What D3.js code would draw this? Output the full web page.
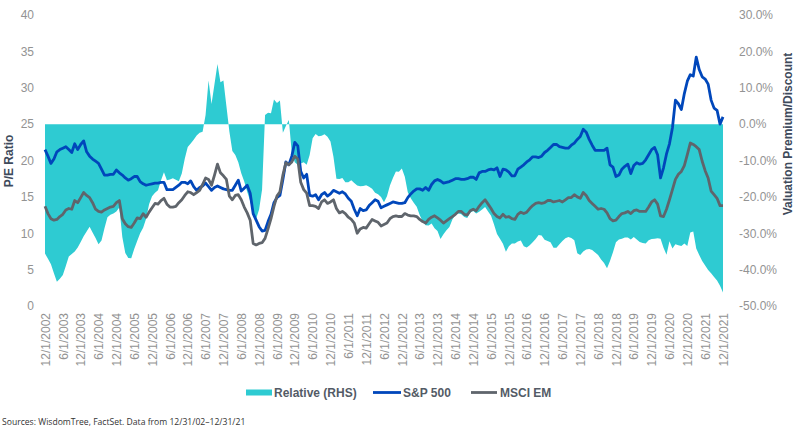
<!DOCTYPE html>
<html>
<head>
<meta charset="utf-8">
<script src="https://cdn.jsdelivr.net/npm/d3@7"></script>
<style>
  html, body { margin: 0; padding: 0; background: #ffffff; }
  svg { display: block; }
  text { font-family: "Liberation Sans", Arial, sans-serif; }
</style>
</head>
<body>
<svg id="chart" width="802" height="431"></svg>
<script>
// ---------- DATA (monthly, 12/2002 – 12/2021) ----------
const startMonth = "2002-12";
const sp500 = [
21.5,20.6,19.6,20.2,21.2,21.5,21.7,21.9,21.5,21.1,22.3,21.5,22.2,22.7,21.2,20.6,20.2,19.9,19.6,18.8,
18.0,18.0,18.1,18.1,18.7,18.3,18.0,17.6,17.3,17.5,17.8,17.8,17.1,16.8,16.6,16.7,16.8,16.9,16.9,17.0,
17.0,16.0,16.0,16.0,16.3,16.6,17.0,17.0,16.8,17.2,16.4,15.9,16.3,16.5,16.9,16.4,15.9,16.3,16.5,16.3,
16.1,16.0,15.9,15.9,16.6,17.3,15.8,16.2,16.6,15.5,12.7,11.8,10.9,10.3,10.4,11.6,12.6,14.2,14.9,15.2,
17.4,19.8,19.4,20.6,22.5,22.0,18.5,17.6,18.1,15.2,15.1,15.3,14.6,15.3,15.6,15.1,15.4,15.9,15.7,15.5,
15.7,15.4,14.8,14.4,13.3,12.4,13.4,13.1,13.2,13.8,14.2,14.6,14.4,13.5,13.7,13.9,14.1,14.3,14.2,14.1,
14.1,14.2,14.9,15.4,15.8,16.1,16.1,15.9,16.3,15.9,16.7,17.2,17.4,17.2,16.9,17.0,17.1,17.3,17.5,17.5,
17.4,17.4,17.5,17.7,17.7,17.4,18.3,18.5,18.5,18.7,18.8,18.7,19.0,17.8,18.8,18.7,18.4,17.9,17.9,18.8,
19.1,19.4,19.8,20.1,20.5,20.5,20.4,20.6,21.1,21.4,21.8,22.2,22.2,21.9,21.8,21.7,21.7,22.1,22.4,22.9,
23.3,24.3,23.9,22.9,22.1,21.4,21.4,21.4,21.4,21.7,19.4,19.1,17.8,18.0,18.8,19.2,19.5,18.2,19.3,19.7,
19.5,19.6,20.1,20.8,21.5,21.8,20.8,17.6,19.0,20.9,22.3,24.5,28.3,27.8,27.0,29.2,30.9,31.8,31.6,34.2,
32.5,31.5,31.2,30.5,28.3,27.2,26.9,25.0,26.0
];
const msciEM = [
13.7,12.7,12.0,11.8,11.9,12.3,12.6,13.2,13.4,13.3,14.5,14.2,14.9,15.6,15.2,14.9,14.2,13.3,13.0,12.9,
13.2,13.4,13.6,13.7,14.2,14.5,12.0,11.3,10.9,10.8,11.4,12.1,12.0,12.7,12.2,12.9,13.5,14.1,14.0,14.5,
14.8,14.0,13.6,13.6,13.7,14.2,14.6,15.2,15.7,15.6,15.3,15.6,15.9,16.7,17.6,17.4,16.6,18.0,19.5,18.3,
17.9,17.4,15.1,14.6,15.2,15.3,14.6,13.6,12.8,11.8,8.6,8.4,8.6,8.7,9.3,10.6,12.0,13.7,15.1,15.7,
18.0,19.7,19.4,19.8,20.6,20.2,17.0,16.0,15.5,13.8,13.8,13.7,13.4,14.3,14.6,14.1,14.3,14.6,13.4,12.8,
13.0,12.7,12.2,11.9,11.4,10.0,10.6,10.8,10.7,11.3,11.9,11.7,11.5,11.0,11.2,11.4,12.0,12.3,12.4,12.3,
12.3,12.7,12.5,12.4,12.4,12.3,11.9,11.6,11.4,11.9,12.2,12.4,12.1,11.8,11.4,11.7,12.0,12.3,12.6,13.0,
13.0,12.6,12.5,13.1,13.3,13.1,13.7,14.2,14.6,14.0,13.4,12.7,12.3,12.1,12.6,12.2,12.3,12.0,11.9,12.6,
12.9,12.7,12.9,13.4,13.8,14.1,14.2,14.1,14.2,14.5,14.5,14.3,14.4,14.5,14.3,14.6,14.9,14.9,15.3,15.0,
14.8,15.6,15.2,14.5,14.1,13.7,13.3,13.4,13.3,12.8,12.0,11.7,11.8,12.3,12.7,12.8,13.0,12.7,13.1,13.2,
13.0,13.0,13.0,13.6,14.3,14.6,14.0,12.4,12.3,13.3,14.6,16.0,17.4,18.1,18.5,19.3,20.8,22.4,22.2,21.9,
21.5,19.9,18.6,17.6,15.8,15.3,14.8,13.8,13.8
];
const relative = [
-35.6,-37.0,-38.5,-41.0,-43.3,-42.5,-41.5,-39.0,-36.4,-35.7,-35.0,-33.9,-32.4,-30.8,-29.5,-28.2,-29.8,-31.3,-33.0,-32.0,
-28.6,-25.6,-24.9,-24.6,-24.0,-22.9,-31.0,-35.4,-36.8,-36.9,-34.3,-32.1,-30.0,-28.5,-26.0,-22.0,-19.8,-18.9,-18.2,-15.5,
-13.2,-15.4,-15.2,-14.9,-15.3,-15.7,-13.6,-9.5,-6.3,-5.3,-4.3,-3.1,-2.4,-2.1,2.5,12.0,5.5,11.0,16.5,11.5,
12.0,5.0,-2.0,-7.4,-8.5,-10.5,-13.5,-15.8,-18.6,-21.1,-24.6,-26.0,-23.5,-18.0,2.5,3.1,3.0,6.8,5.8,6.5,
-2.4,-0.5,1.1,-8.0,-10.5,-11.2,-10.8,-10.5,-11.2,-8.5,-3.9,-2.7,-3.3,-3.2,-2.8,-3.5,-4.8,-9.0,-15.0,-15.1,
-14.8,-16.0,-16.0,-15.4,-16.2,-16.9,-17.1,-17.0,-16.8,-17.2,-17.8,-18.9,-19.3,-20.0,-21.5,-19.8,-16.9,-14.8,-13.0,-13.1,
-12.2,-14.5,-18.7,-20.4,-21.6,-22.7,-25.0,-26.8,-27.8,-27.9,-27.3,-28.6,-29.4,-31.6,-30.3,-29.2,-28.3,-26.2,-24.9,-24.6,
-24.8,-25.5,-25.8,-24.3,-23.9,-24.6,-24.1,-23.5,-22.8,-24.0,-25.2,-27.6,-30.2,-31.5,-32.9,-35.1,-33.6,-32.8,-32.8,-32.3,
-32.0,-33.6,-33.9,-33.3,-32.5,-31.6,-30.5,-30.6,-31.8,-32.1,-32.5,-34.0,-34.0,-33.0,-32.1,-31.4,-31.0,-31.3,-31.9,-35.5,
-36.0,-35.0,-34.5,-34.3,-34.6,-35.3,-36.0,-37.2,-38.2,-39.6,-37.6,-35.2,-32.5,-31.7,-31.5,-31.2,-31.2,-31.7,-31.0,-31.7,
-32.4,-32.7,-32.8,-31.9,-31.6,-31.5,-31.4,-31.5,-34.0,-35.9,-32.2,-34.2,-33.0,-33.3,-33.5,-32.8,-33.5,-29.8,-29.5,-34.2,
-36.0,-37.6,-38.9,-40.1,-41.0,-42.0,-43.0,-44.4,-46.3
];
const leftTicks = [0, 5, 10, 15, 20, 25, 30, 35, 40];
const rightTicks = [-50, -40, -30, -20, -10, 0, 10, 20, 30];
const seriesNames = ["Relative (RHS)", "S&P 500", "MSCI EM"];
const leftTitle = "P/E Ratio";
const rightTitle = "Valuation Premium/Discount";
const sourceText = "Sources: WisdomTree, FactSet. Data from 12/31/02\u201312/31/21";

// ---------- CATEGORIES (months) ----------
const parseM = d3.utcParse("%Y-%m");
const months = d3.utcMonth.range(parseM(startMonth), d3.utcMonth.offset(parseM(startMonth), sp500.length));
const fmt = d => (d.getUTCMonth() + 1) + "/1/" + d.getUTCFullYear();
const categories = months.map(fmt);
const tickLabels = categories.filter((c, i) => i % 6 === 0);

// ---------- STYLE ----------
const colors = { rel: "#2ECBD2", sp: "#0047BB", em: "#5F656C" };
const svg = d3.select("#chart");

const x = d3.scalePoint().domain(categories).range([45, 723]);
const yL = d3.scaleLinear().domain([0, 40]).range([306, 15]);
const yR = d3.scaleLinear().domain([-50, 30]).range([306, 15]);

// Relative area
const area = d3.area()
  .x((d, i) => x(categories[i]))
  .y0(yR(0))
  .y1(d => yR(d));
svg.append("path").datum(relative)
  .attr("d", area)
  .attr("fill", colors.rel);

// Lines
const lineL = d3.line().x((d, i) => x(categories[i])).y(d => yL(d));
svg.append("path").datum(sp500)
  .attr("d", lineL).attr("fill", "none")
  .attr("stroke", colors.sp).attr("stroke-width", 2.8).attr("stroke-linejoin", "round");
svg.append("path").datum(msciEM)
  .attr("d", lineL).attr("fill", "none")
  .attr("stroke", colors.em).attr("stroke-width", 2.8).attr("stroke-linejoin", "round");

// Axes
const axisColor = "#939393";
const gL = svg.append("g").attr("transform", "translate(34,0)")
  .call(d3.axisLeft(yL).tickValues(leftTicks).tickSize(0).tickPadding(0));
const gR = svg.append("g").attr("transform", "translate(739,0)")
  .call(d3.axisRight(yR).tickValues(rightTicks).tickSize(0).tickPadding(0)
    .tickFormat(d => d.toFixed(1) + "%"));
const gX = svg.append("g").attr("transform", "translate(0,313)")
  .call(d3.axisBottom(x).tickValues(tickLabels).tickSize(0).tickPadding(0));
[gL, gR, gX].forEach(g => {
  g.select(".domain").remove();
  g.selectAll("text").attr("fill", axisColor)
    .style("font-family", "'Liberation Sans', Arial, sans-serif")
    .style("font-size", "12px");
});
gX.selectAll("text")
  .attr("transform", "rotate(-90)")
  .attr("text-anchor", "end")
  .attr("x", 0).attr("y", 0).attr("dx", 0).attr("dy", "0.35em");

// Axis titles
const titleColor = "#3E4A5B";
svg.append("text")
  .attr("transform", "translate(9,161) rotate(-90)")
  .attr("text-anchor", "middle").attr("dy", "0.35em")
  .attr("fill", titleColor).attr("font-weight", "bold").attr("font-size", 12)
  .text(leftTitle);
svg.append("text")
  .attr("transform", "translate(788,134) rotate(-90)")
  .attr("text-anchor", "middle").attr("dy", "0.35em")
  .attr("fill", titleColor).attr("font-weight", "bold").attr("font-size", 12)
  .text(rightTitle);

// Legend
const legendColor = "#535B66";
const lg = svg.append("g").attr("font-weight", "bold").attr("font-size", 12).attr("fill", legendColor);
lg.append("rect").attr("x", 246).attr("y", 389.5).attr("width", 26).attr("height", 6).attr("fill", colors.rel);
lg.append("text").attr("x", 274).attr("y", 392.5).attr("dy", "0.35em").text(seriesNames[0]);
lg.append("line").attr("x1", 373).attr("x2", 401).attr("y1", 392.5).attr("y2", 392.5)
  .attr("stroke", colors.sp).attr("stroke-width", 2.8);
lg.append("text").attr("x", 403).attr("y", 392.5).attr("dy", "0.35em").text(seriesNames[1]);
lg.append("line").attr("x1", 471).attr("x2", 497).attr("y1", 392.5).attr("y2", 392.5)
  .attr("stroke", colors.em).attr("stroke-width", 2.8);
lg.append("text").attr("x", 500).attr("y", 392.5).attr("dy", "0.35em").text(seriesNames[2]);

// Source
svg.append("text")
  .attr("x", 2).attr("y", 425)
  .attr("fill", "#333").attr("font-size", 8.6)
  .style("font-family", "'Open Sans', 'Noto Sans', sans-serif")
  .text(sourceText);
</script>
</body>
</html>
